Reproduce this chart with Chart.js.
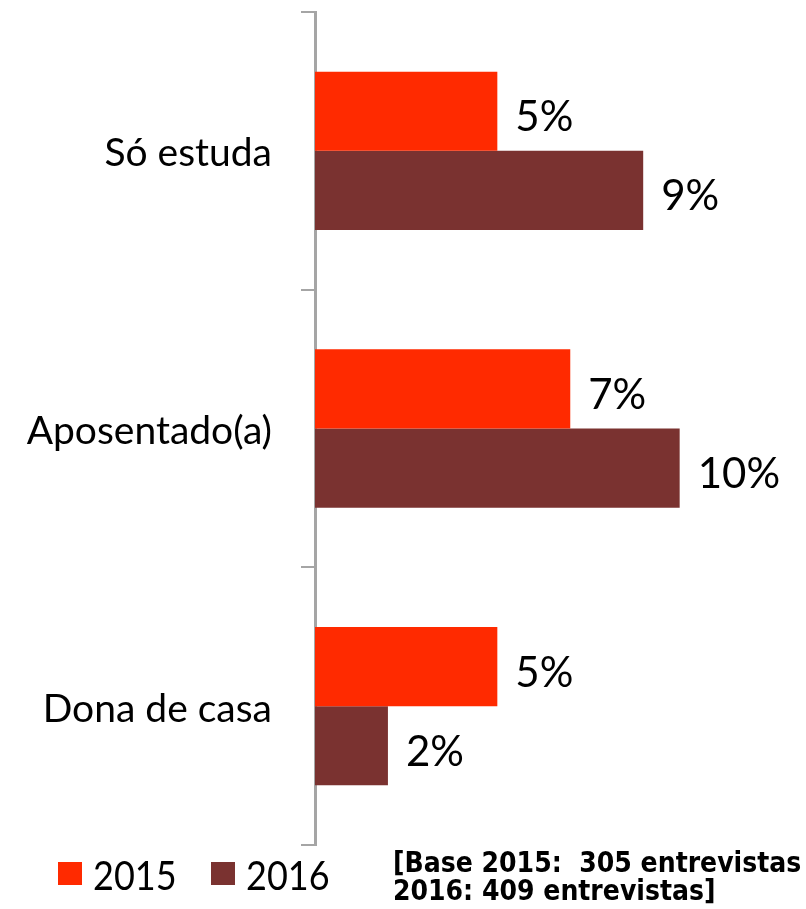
<!DOCTYPE html>
<html>
<head>
<meta charset="utf-8">
<script src="https://cdn.jsdelivr.net/npm/chart.js@4"></script>
<style>
    body { margin: 0; background: #fff; }
    #wrap { position: relative; width: 806px; height: 909px; overflow: hidden; }
    #chart { position: absolute; left: 0; top: 0; }
    .legend-item { position: absolute; top: 850px; height: 50px; }
    .legend-box { position: absolute; top: 12px; width: 24px; height: 23px; }
    .legend-text {
        position: absolute; left: 35px; top: 0; white-space: nowrap;
        font-family: Lato, sans-serif; font-size: 40px; line-height: 50px; color: #000;
        transform: scaleX(0.9); transform-origin: left center;
    }
    #note {
        position: absolute; left: 393px; top: 849px; white-space: pre;
        font-family: "DejaVu Sans Condensed", "DejaVu Sans", sans-serif; font-weight: bold;
        font-stretch: condensed; font-size: 28px; line-height: 28px; color: #000;
    }
</style>
</head>
<body>
<div id="wrap">
    <canvas id="chart" width="806" height="909"></canvas>
    <div class="legend-item" style="left:58px">
        <div class="legend-box" style="background:#FF2A00"></div>
        <div class="legend-text">2015</div>
    </div>
    <div class="legend-item" style="left:211px">
        <div class="legend-box" style="background:#7A3230"></div>
        <div class="legend-text">2016</div>
    </div>
    <div id="note">[Base 2015:  305 entrevistas
2016: 409 entrevistas]</div>
</div>
<script>
// Chart data
const categories = ['Só estuda', 'Aposentado(a)', 'Dona de casa'];
const values2015 = [5, 7, 5];
const values2016 = [9, 10, 2];
const seriesNames = ['2015', '2016'];

// value labels at the end of each bar
const barLabels = {
    id: 'barLabels',
    afterDatasetsDraw(chart) {
        const ctx = chart.ctx;
        ctx.save();
        ctx.font = '42px Lato, sans-serif';
        ctx.fillStyle = '#000';
        ctx.textAlign = 'left';
        ctx.textBaseline = 'alphabetic';
        chart.data.datasets.forEach((ds, i) => {
            chart.getDatasetMeta(i).data.forEach((bar, j) => {
                ctx.fillText(ds.data[j] + '%', bar.x + 18, bar.y + 20);
            });
        });
        ctx.restore();
    }
};

function initChart() {
    const ctx = document.getElementById('chart');
    if (!ctx || typeof Chart === 'undefined') return;

    new Chart(ctx, {
        type: 'bar',
        data: {
            labels: categories,
            datasets: [{
                label: seriesNames[0],
                data: values2015,
                backgroundColor: '#FF2A00',
                borderWidth: 0
            }, {
                label: seriesNames[1],
                data: values2016,
                backgroundColor: '#7A3230',
                borderWidth: 0
            }]
        },
        options: {
            indexAxis: 'y',
            responsive: false,
            animation: false,
            categoryPercentage: 0.57,
            barPercentage: 1.0,
            layout: { padding: { top: 12, bottom: 64, right: 6, left: 0 } },
            plugins: {
                legend: { display: false },
                tooltip: { enabled: false }
            },
            scales: {
                x: {
                    display: false,
                    min: 0,
                    max: 13.3
                },
                y: {
                    afterFit(scale) {
                        scale.width = 315;
                        scale.paddingTop = 0;
                        scale.paddingBottom = 0;
                    },
                    border: { display: true, color: '#A5A5A5', width: 3 },
                    grid: {
                        offset: true,
                        drawOnChartArea: false,
                        tickLength: 14,
                        color: '#A5A5A5',
                        lineWidth: 2
                    },
                    ticks: {
                        color: '#000',
                        padding: 29,
                        labelOffset: 3,
                        font: { family: 'Lato', size: 39 }
                    }
                }
            }
        },
        plugins: [barLabels]
    });
}

initChart();
</script>
</body>
</html>
